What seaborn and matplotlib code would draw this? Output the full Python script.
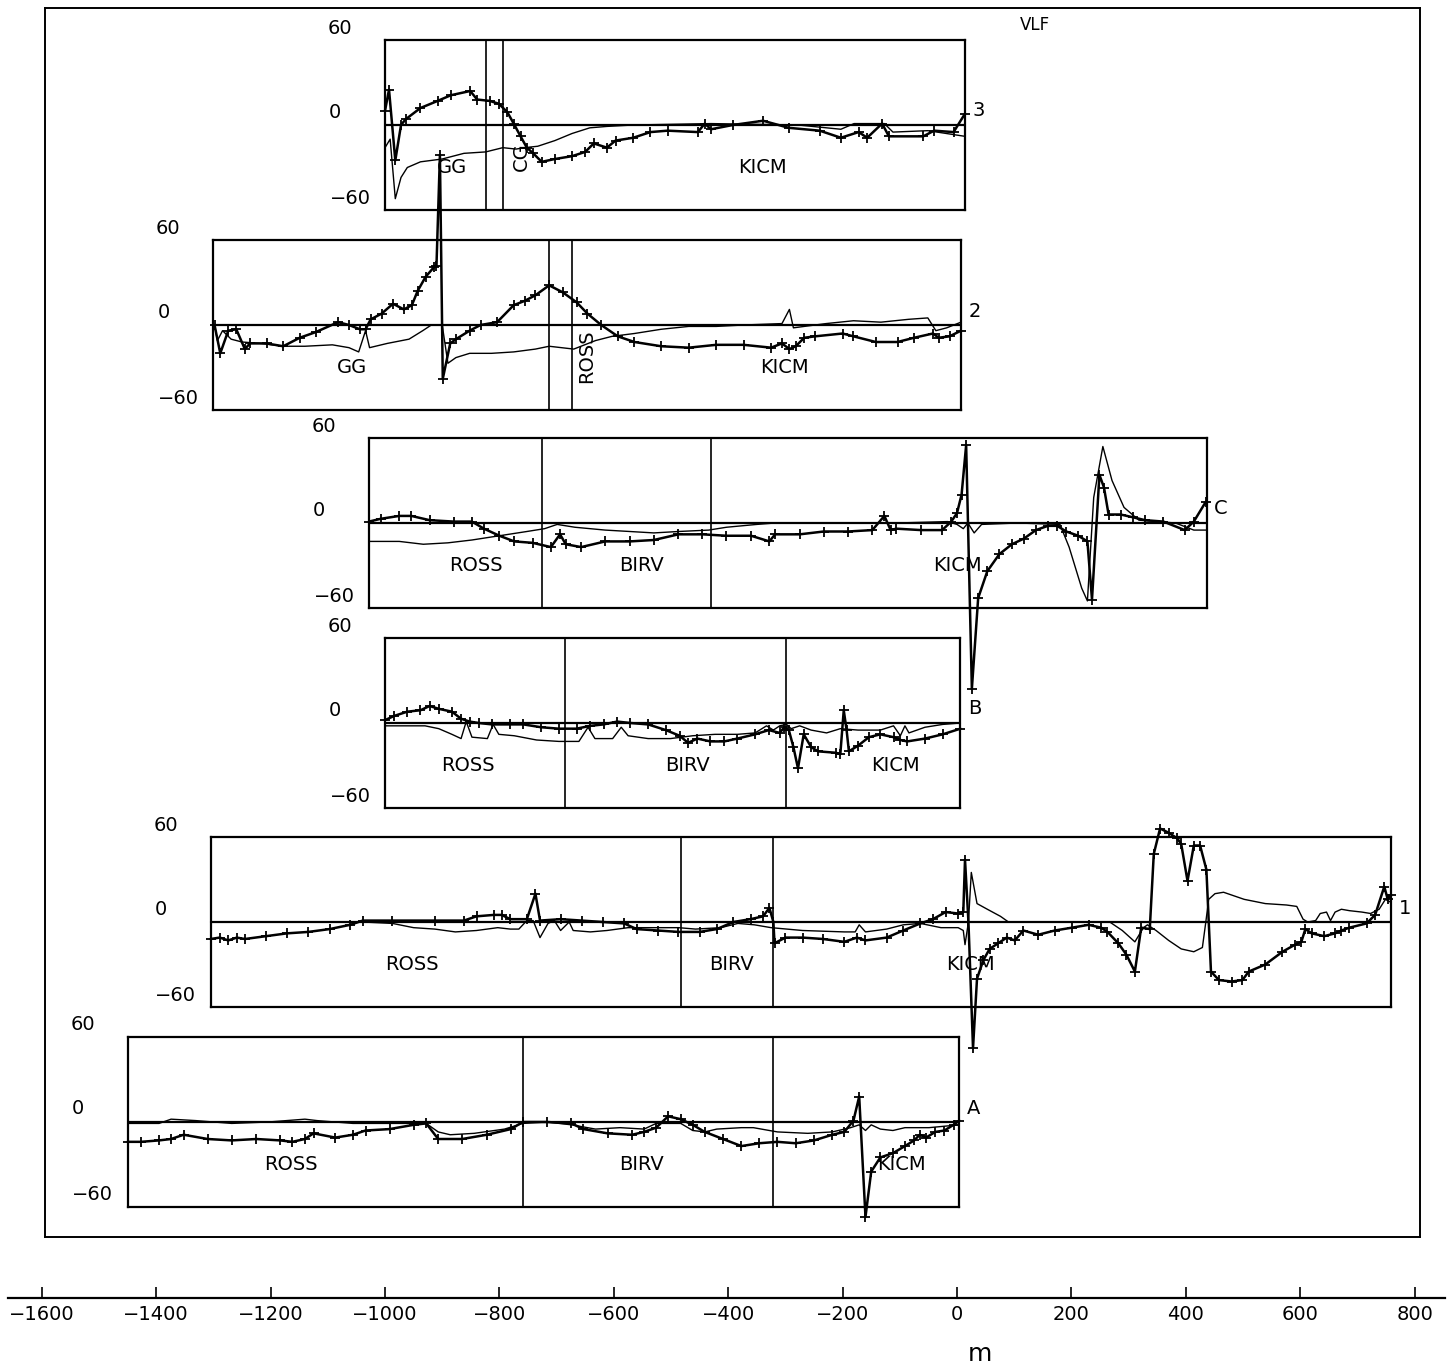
import numpy as np
import pandas as pd
import seaborn as sns
import matplotlib
matplotlib.use("Agg")
import matplotlib.pyplot as plt

sns.set_style("white")
plt.rcParams['font.family'] = ['DejaVu Sans']
plt.rcParams['text.color'] = 'black'
plt.rcParams['xtick.color'] = 'black'
plt.rcParams['ytick.color'] = 'black'
plt.rcParams['axes.labelcolor'] = 'black'

# ---- data (x in m, y in %) ----
# profile 3
p3_thick_x = [-1000, -993, -982, -972, -964, -938, -908, -885, -851, -839, -817, -801, -786, -775, -763, -752,
              -741, -726, -703, -673, -650, -635, -612, -597, -566, -536, -506, -453, -441, -430, -392, -339,
              -294, -240, -203, -172, -157, -131, -119, -59, -40, -6, 14]
p3_thick_y = [10, 25, -25, 0, 4, 12, 17, 21, 24, 18, 17, 15, 9, 1, -8, -16,
              -20, -26, -24, -22, -19, -13, -16, -11, -9, -5, -4, -5, 1, -3, 0, 3,
              -2, -4, -9, -5, -9, 1, -8, -8, -4, -5, 8]
p3_thin_x = [-1000, -991, -982, -972, -961, -938, -900, -862, -824, -794, -771, -756, -733, -703, -673, -642,
             -612, -566, -430, -278, -203, -180, -127, -112, -51, 14]
p3_thin_y = [-16, -10, -52, -37, -30, -26, -24, -20, -19, -16, -17, -16, -15, -11, -6, -2,
             -1, 0, 1, 0, -3, 1, 1, -5, -4, -8]

# profile 2
p2_thick_x = [-1298, -1288, -1274, -1260, -1245, -1236, -1207, -1178, -1149, -1121, -1082, -1063, -1044, -1034,
              -1025, -1006, -986, -967, -953, -943, -929, -914, -910, -904, -899, -886, -876, -852, -833, -804,
              -775, -756, -737, -713, -689, -665, -646, -622, -593, -564, -517, -469, -421, -373, -325, -306,
              -293, -282, -267, -248, -200, -181, -142, -104, -75, -42, -32, -13, 7]
p2_thick_y = [0, -20, -4, -3, -17, -13, -13, -15, -9, -5, 2, 0, -3, -3,
              4, 8, 15, 11, 14, 24, 34, 41, 42, 120, -38, -13, -10, -4, 0, 2,
              14, 17, 21, 28, 23, 16, 8, 0, -8, -12, -15, -16, -14, -14, -16, -13,
              -17, -15, -9, -8, -6, -8, -12, -12, -9, -6, -9, -8, -4]
p2_thin_x = [-1298, -1293, -1284, -1269, -1250, -1217, -1178, -1140, -1092, -1063, -1046, -1034, -1027, -996,
             -958, -934, -919, -900, -890, -876, -852, -814, -775, -737, -713, -670, -632, -603, -564, -517,
             -469, -421, -373, -306, -293, -286, -229, -181, -133, -85, -51, -37, -18, 7]
p2_thin_y = [0, -11, -4, -10, -12, -13, -15, -15, -14, -16, -19, -4, -16, -13,
             -10, -4, 0, 0, -27, -23, -20, -20, -19, -17, -15, -17, -11, -8, -6, -3,
             -1, -1, 0, 1, 11, -2, 1, 3, 2, 4, 5, -4, -2, 2]

# profile C
pc_thick_x = [-1028, -1007, -975, -954, -922, -880, -848, -827, -800, -774, -742, -710, -694, -684, -657, -615,
              -572, -530, -487, -445, -403, -360, -328, -318, -275, -233, -191, -148, -127, -116, -106, -63,
              -26, -10, 0, 8, 16, 26, 37, 53, 74, 96, 117, 138, 159, 175, 191, 212, 228, 236, 249, 257,
              265, 286, 308, 329, 361, 398, 414, 435]
pc_thick_y = [1, 3, 5, 5, 2, 1, 1, -4, -9, -13, -14, -17, -8, -15, -17, -13,
              -13, -12, -8, -8, -9, -9, -13, -8, -8, -6, -6, -5, 5, -5, -4, -5,
              -5, 1, 7, 20, 55, -117, -53, -34, -22, -15, -11, -5, -2, -2, -6, -9, -13, -54, 34, 25,
              6, 6, 4, 2, 1, -5, 1, 15]
pc_thin_x = [-1028, -975, -933, -890, -848, -800, -752, -721, -699, -668, -615, -572, -530, -487, -434, -403,
             -350, -318, -106, -16, 0, 11, 19, 30, 43, 106, 180, 196, 218, 228, 239, 255, 271, 292, 318,
             350, 382, 414, 437]
pc_thin_y = [-13, -13, -15, -14, -12, -9, -6, -4, -1, -3, -5, -6, -7, -6, -5, -3,
             -1, 0, 0, 1, -1, -4, 0, -7, -1, 0, -1, -17, -46, -55, 18, 54, 30, 11, 2,
             1, 0, -5, -5]

# profile B
pb_thick_x = [-1000, -984, -961, -938, -922, -906, -883, -867, -852, -836, -813, -782, -758, -727, -696, -665,
              -641, -618, -594, -571, -540, -509, -485, -470, -454, -431, -407, -384, -353, -329, -310, -302,
              -294, -286, -278, -268, -255, -243, -212, -204, -198, -193, -189, -173, -154, -134, -111, -99,
              -87, -56, -25, 6]
pb_thick_y = [2, 5, 8, 9, 12, 10, 8, 3, 1, 0, -1, -1, -1, -3, -4, -4,
              -2, -1, 1, 0, -1, -5, -9, -14, -11, -13, -13, -11, -8, -5, -7, -3,
              -5, -17, -32, -8, -17, -20, -21, -22, 9, -5, -20, -16, -10, -8, -10, -12,
              -13, -11, -8, -4]
pb_thin_x = [-1000, -930, -906, -883, -867, -858, -848, -821, -811, -801, -774, -735, -696, -661, -645, -633,
             -602, -587, -575, -540, -501, -462, -423, -384, -353, -333, -321, -310, -298, -290, -275, -255,
             -228, -204, -173, -134, -111, -99, -91, -84, -56, -25, 6]
pb_thin_y = [-2, -2, -4, -8, -11, 1, -10, -11, -1, -8, -9, -12, -13, -13, -3, -11,
             -11, -3, -9, -11, -11, -9, -8, -8, -7, -2, -5, -2, -1, -4, -2, -5,
             -7, -4, -5, -5, -2, -9, -2, -7, -3, -1, 0]

# profile 1
p1_thick_x = [-1305, -1289, -1274, -1259, -1245, -1208, -1171, -1134, -1097, -1061, -1039, -987, -913, -862,
              -840, -810, -796, -781, -752, -737, -729, -693, -656, -619, -582, -560, -523, -487, -450, -420,
              -391, -361, -339, -328, -321, -319, -300, -270, -234, -197, -175, -160, -123, -94, -64, -42, -20,
              2, 11, 14, 20, 28, 35, 46, 57, 72, 87, 101, 116, 142, 171, 201, 230, 252, 263, 282, 296, 311,
              322, 337, 344, 355, 370, 385, 392, 403, 414, 425, 436, 444, 458, 480, 499, 510, 539, 569, 591,
              602, 609, 620, 642, 661, 672, 686, 716, 731, 747, 753, 758]
p1_thick_y = [-12, -11, -13, -11, -12, -10, -8, -7, -5, -2, 1, 1, 1, 1,
              4, 5, 5, 2, 2, 20, 1, 2, 1, 0, -1, -5, -6, -7, -7, -5,
              0, 2, 4, 10, 0, -15, -11, -11, -12, -14, -11, -13, -11, -6, -1, 2, 7,
              6, 7, 44, 0, -89, -40, -27, -19, -15, -11, -13, -6, -9, -6, -4, -2, -4, -7, -15, -23, -35,
              -4, -5, 48, 66, 63, 59, 55, 29, 54, 54, 37, -35, -41, -42, -41, -35, -30, -21, -16,
              -14, -5, -8, -10, -8, -6, -4, -1, 5, 25, 16, 19]
p1_thin_x = [-1305, -1039, -987, -950, -913, -877, -840, -803, -781, -766, -752, -741, -729, -715, -704, -693,
             -678, -671, -641, -612, -575, -545, -487, -457, -413, -383, -354, -325, -270, -197, -178, -171,
             -160, -123, -94, -64, -28, 2, 11, 14, 20, 25, 35, 53, 76, 90, 267, 289, 311, 326, 333, 348,
             370, 392, 414, 429, 435, 440, 451, 466, 502, 539, 576, 594, 605, 613, 627, 635, 646, 653, 661,
             672, 686, 708, 723, 738, 749, 758]
p1_thin_y = [0, 0, -1, -4, -5, -7, -6, -4, -5, -5, 1, 1, -11, -1, 1, -6,
             0, -6, -7, -6, -4, -4, -4, -5, -4, -1, -2, -4, -6, -7, -7, -2,
             -7, -5, -2, -1, -4, -4, -6, -16, 0, 35, 13, 9, 4, 0, 0, -6, -14, -4, -2, -6,
             -13, -19, -21, -18, 0, 16, 20, 21, 16, 13, 12, 11, 2, 0, 1, 6, 7, 1, 7,
             9, 8, 7, 6, 9, 16, 14]

# profile A
pa_thick_x = [-1450, -1427, -1395, -1374, -1352, -1310, -1268, -1225, -1183, -1162, -1140, -1125, -1087, -1056,
              -1034, -992, -950, -928, -907, -865, -822, -780, -759, -717, -674, -653, -611, -568, -547, -526,
              -505, -483, -462, -441, -409, -377, -346, -314, -282, -250, -218, -197, -181, -171, -160, -150,
              -134, -112, -91, -75, -65, -54, -38, -22, -6, 4]
pa_thick_y = [-14, -14, -13, -12, -9, -12, -13, -12, -13, -14, -12, -8, -11, -9,
              -6, -5, -2, -1, -12, -12, -9, -5, 0, 0, -1, -5, -8, -9, -7, -4,
              4, 2, -2, -7, -12, -17, -15, -14, -15, -13, -9, -7, 1, 18, -67, -35,
              -25, -22, -17, -13, -9, -11, -7, -6, -2, 1]
pa_thin_x = [-1450, -1395, -1374, -1331, -1268, -1204, -1140, -1119, -1056, -992, -928, -907, -886, -844,
             -791, -759, -717, -674, -632, -589, -547, -526, -483, -462, -441, -420, -377, -356, -314, -261,
             -218, -186, -171, -160, -150, -134, -112, -91, -49, 4]
pa_thin_y = [-1, -1, 2, 1, -1, 0, 2, 1, -1, -1, -1, -7, -9, -8,
             -5, -1, 0, -2, -5, -4, -5, -1, -1, -6, -7, -5, -4, -4, -7, -8,
             -7, -4, -2, -6, -2, -5, -6, -4, -4, -2]

# panel extents, geological boundaries and labels
panel_names = ['3', '2', 'C', 'B', '1', 'A']
panel_xlim = [(-1000, 14), (-1300, 7), (-1028, 437), (-1000, 6), (-1305, 758), (-1450, 4)]
panel_bounds = [[-823, -793], [-713, -673], [-725, -430], [-685, -299], [-482, -322], [-759, -322]]
panel_units = [
    [('GG', -883, 0), ('CG', -762, 90), ('KICM', -341, 0)],
    [('GG', -1058, 0), ('ROSS', -647, 90), ('KICM', -302, 0)],
    [('ROSS', -841, 0), ('BIRV', -552, 0), ('KICM', 0, 0)],
    [('ROSS', -855, 0), ('BIRV', -472, 0), ('KICM', -107, 0)],
    [('ROSS', -953, 0), ('BIRV', -395, 0), ('KICM', 24, 0)],
    [('ROSS', -1164, 0), ('BIRV', -551, 0), ('KICM', -98, 0)],
]
panel_data = [
    (p3_thick_x, p3_thick_y, p3_thin_x, p3_thin_y),
    (p2_thick_x, p2_thick_y, p2_thin_x, p2_thin_y),
    (pc_thick_x, pc_thick_y, pc_thin_x, pc_thin_y),
    (pb_thick_x, pb_thick_y, pb_thin_x, pb_thin_y),
    (p1_thick_x, p1_thick_y, p1_thin_x, p1_thin_y),
    (pa_thick_x, pa_thick_y, pa_thin_x, pa_thin_y),
]
ticks_m = list(range(-1600, 801, 200))

# ---- layout (pixels of the 1454x1368 page) ----
W, H = 1454, 1368
X0, S = 957, 0.572          # pixel of 0 m, pixels per metre
panel_top = [40, 240, 438, 638, 837, 1037]
panel_h = 170

fig = plt.figure(figsize=(W / 100, H / 100), dpi=100)

# outer frame
frame = fig.add_axes([45 / W, 1 - 1237 / H, (1420 - 45) / W, (1237 - 8) / H])
frame.set_xticks([])
frame.set_yticks([])
frame.set_facecolor('none')
for sp in frame.spines.values():
    sp.set_linewidth(1.4)
    sp.set_color('black')
frame.text(0.72, 0.986, 'VLF', transform=frame.transAxes, fontsize=12, ha='center', va='center')

fs = 14
for i, name in enumerate(panel_names):
    xmin, xmax = panel_xlim[i]
    left = (X0 + xmin * S) / W
    width = (xmax - xmin) * S / W
    bottom = 1 - (panel_top[i] + panel_h) / H
    ax = fig.add_axes([left, bottom, width, panel_h / H])
    ax.set_facecolor('none')
    ax.set_xlim(xmin, xmax)
    ax.set_ylim(-60, 60)
    ax.set_xticks([])
    ax.set_yticks([])
    for sp in ax.spines.values():
        sp.set_linewidth(1.6)
        sp.set_color('black')

    tx, ty, nx, ny = panel_data[i]
    ax.axhline(0, color='black', lw=1.6)
    for b in panel_bounds[i]:
        ax.axvline(b, color='black', lw=1.2)

    sns.lineplot(x=nx, y=ny, ax=ax, color='black', lw=1.0, sort=False,
                 estimator=None, clip_on=False)
    sns.lineplot(x=tx, y=ty, ax=ax, color='black', lw=1.8, sort=False,
                 estimator=None, marker='+', markersize=7, markeredgewidth=1.3,
                 markeredgecolor='black', clip_on=False)

    # y labels
    for val, dx, dy in [(60, -45, 12), (0, -50, 13), (-60, -35, 12)]:
        lab = '\u2212' + str(abs(val)) if val < 0 else str(val)
        ax.annotate(lab, xy=(0, val), xycoords=('axes fraction', 'data'),
                    xytext=(dx * 0.72, dy * 0.72), textcoords='offset points',
                    ha='center', va='center', fontsize=fs)
    # profile name
    ax.annotate(name, xy=(1, 0), xycoords=('axes fraction', 'data'),
                xytext=(14 * 0.72, 14 * 0.72), textcoords='offset points',
                ha='center', va='center', fontsize=fs)
    # unit names
    for txt, xm, rot in panel_units[i]:
        ax.text(xm, -30 if rot == 0 else -22, txt, ha='center', va='center',
                rotation=rot, fontsize=fs, clip_on=False)

# bottom distance axis
xa_left, xa_right = 8, 1445
axb = fig.add_axes([xa_left / W, 1 - 1298 / H, (xa_right - xa_left) / W, 0.0001])
axb.set_facecolor('none')
axb.set_xlim((xa_left - X0) / S, (xa_right - X0) / S)
axb.set_yticks([])
for k in ['top', 'left', 'right']:
    axb.spines[k].set_visible(False)
axb.spines['bottom'].set_linewidth(1.6)
axb.spines['bottom'].set_color('black')
axb.set_xticks(ticks_m)
axb.set_xticklabels([('\u2212' + str(abs(t))) if t < 0 else str(t) for t in ticks_m], fontsize=fs)
axb.tick_params(axis='x', bottom=True, direction='in', length=8, width=1.2, pad=5)
fig.text(980 / W, 1 - 1354 / H, 'm', fontsize=18, ha='center', va='center')

fig.savefig('out.png', dpi=100)
